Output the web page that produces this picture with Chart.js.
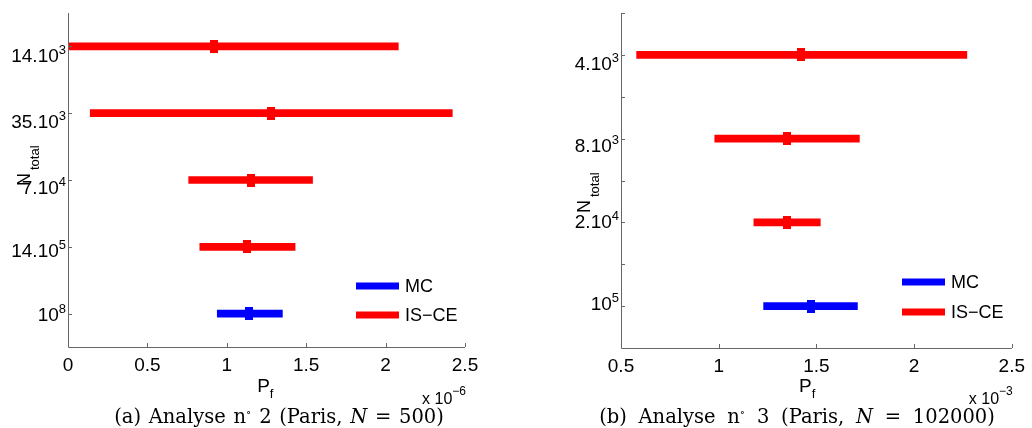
<!DOCTYPE html>
<html>
<head>
<meta charset="utf-8">
<script src="https://cdn.jsdelivr.net/npm/chart.js@4.4.1/dist/chart.umd.min.js"></script>
<style>
  body { margin: 0; background: #fff; width: 1032px; height: 428px; overflow: hidden; position: relative; }
  canvas { position: absolute; top: 0; }
  #panelA { left: 0; }
  #panelB { left: 516px; }
  .caption { position: absolute; top: 405px; font-family: "DejaVu Serif", serif; font-size: 19.5px; white-space: nowrap; transform: translateX(-50%); color: #000; }
  .caption i { font-style: italic; }
  #capA { left: 279px; word-spacing: 1.5px; }
  #capB { left: 797px; word-spacing: 5.5px; }
</style>
</head>
<body>
<canvas id="panelA" width="516" height="428"></canvas>
<canvas id="panelB" width="516" height="428"></canvas>
<div class="caption" id="capA">(a) Analyse n<sup style="font-size:11px">&#8728;</sup> 2 (Paris, <i>N</i> = 500)</div>
<div class="caption" id="capB">(b) Analyse n<sup style="font-size:11px">&#8728;</sup> 3 (Paris, <i>N</i> = 102000)</div>
<script>
// (a) Analyse n°2 - valeurs en unités de 1e-6
const labelsA = ['14.10^3', '35.10^3', '7.10^4', '14.10^5', '10^8'];
const isceLowA = [0.00, 0.14, 0.76, 0.83, null];
const isceHighA = [2.08, 2.42, 1.54, 1.43, null];
const isceMeanA = [0.92, 1.28, 1.15, 1.13, null];
const mcLowA = [null, null, null, null, 0.94];
const mcHighA = [null, null, null, null, 1.35];
const mcMeanA = [null, null, null, null, 1.14];
const xTicksA = [0, 0.5, 1, 1.5, 2, 2.5];

// (b) Analyse n°3 - valeurs en unités de 1e-3
const labelsB = ['4.10^3', '8.10^3', '2.10^4', '10^5'];
const isceLowB = [0.58, 0.98, 1.18, null];
const isceHighB = [2.27, 1.72, 1.52, null];
const isceMeanB = [1.42, 1.35, 1.35, null];
const mcLowB = [null, null, null, 1.23];
const mcHighB = [null, null, null, 1.71];
const mcMeanB = [null, null, null, 1.47];
const xTicksB = [0.5, 1, 1.5, 2, 2.5];

const nomsSeries = ['MC', 'IS\u2212CE'];
const ROUGE = '#ff0000';
const BLEU = '#0000ff';
const POLICE = '"Liberation Sans", Arial, sans-serif';

function marqueur(couleur) {
    const c = document.createElement('canvas');
    c.width = 8; c.height = 13;
    const g = c.getContext('2d');
    g.fillStyle = couleur;
    g.fillRect(0, 0, 8, 13);
    return c;
}

function texteExposant(ctx, texte, xDroite, base, grand, petit, montee) {
    const [b, s] = texte.split('^');
    ctx.font = petit + 'px ' + POLICE;
    const ws = s ? ctx.measureText(s).width : 0;
    ctx.font = grand + 'px ' + POLICE;
    const wb = ctx.measureText(b).width;
    ctx.textAlign = 'left';
    ctx.textBaseline = 'alphabetic';
    ctx.fillText(b, xDroite - ws - wb, base);
    if (s) {
        ctx.font = petit + 'px ' + POLICE;
        ctx.fillText(s, xDroite - ws, base - montee);
    }
}

const extras = {
    id: 'extras',
    afterDraw(chart, args, o) {
        const ctx = chart.ctx;
        const { left, right, top, bottom } = chart.chartArea;
        const xs = chart.scales.x, ys = chart.scales.y;
        ctx.save();
        // axes (sans boite)
        ctx.strokeStyle = '#666';
        ctx.lineWidth = 1;
        ctx.beginPath();
        ctx.moveTo(left + 0.5, top);
        ctx.lineTo(left + 0.5, bottom + 0.5);
        ctx.lineTo(right, bottom + 0.5);
        // graduations vers l'intérieur
        xs.ticks.forEach(t => {
            const px = Math.round(xs.getPixelForValue(t.value)) + 0.5;
            ctx.moveTo(px, bottom);
            ctx.lineTo(px, bottom - 4);
        });
        const n = o.labels.length;
        for (let i = 0; i < n; i++) {
            const py = Math.round(ys.getPixelForValue(i)) + 0.5;
            ctx.moveTo(left, py);
            ctx.lineTo(left + 4, py);
            if (o.mineurs) {
                const pm = Math.round(ys.getPixelForValue(i - 0.5)) + 0.5;
                ctx.moveTo(left, pm);
                ctx.lineTo(left + 4, pm);
            }
        }
        ctx.stroke();

        // étiquettes y avec exposants
        ctx.fillStyle = '#000';
        o.labels.forEach((lab, i) => {
            const py = ys.getPixelForValue(i);
            texteExposant(ctx, lab, left - 2, py + o.decalages[i], 19, 13, 8);
        });

        // P_f
        const cx = (left + right) / 2 + o.pfDx;
        ctx.font = '19px ' + POLICE;
        const wP = ctx.measureText('P').width;
        ctx.textAlign = 'left';
        ctx.fillText('P', cx - wP / 2 - 3, 392);
        ctx.font = '13px ' + POLICE;
        ctx.fillText('f', cx + wP / 2 - 3, 398);

        // x 10^-n
        texteExposant(ctx, 'x 10^' + o.exposant, right + 1, 404, 16, 12, 9);

        // N_total (vertical)
        ctx.save();
        ctx.translate(o.nX, o.nY);
        ctx.rotate(-Math.PI / 2);
        ctx.font = '18px ' + POLICE;
        ctx.fillText('N', 0, 0);
        const wN = ctx.measureText('N').width;
        ctx.font = '13px ' + POLICE;
        ctx.fillText('total', wN + 3, 9);
        ctx.restore();

        // légende
        const series = [chart.data.datasets[0], chart.data.datasets[1]];
        series.forEach((ds, k) => {
            const y = o.legY + k * o.legGap;
            ctx.strokeStyle = ds.backgroundColor;
            ctx.lineWidth = 7;
            ctx.beginPath();
            ctx.moveTo(o.legX, y);
            ctx.lineTo(o.legX + 43, y);
            ctx.stroke();
            ctx.fillStyle = '#000';
            ctx.font = '18px ' + POLICE;
            ctx.textBaseline = 'middle';
            ctx.fillText(ds.label, o.legX + 49, y + 1);
        });
        ctx.restore();
    }
};

function creerPanneau(id, p) {
    const ctx = document.getElementById(id).getContext('2d');
    const barres = (lo, hi) => lo.map((v, i) => v == null ? null : [v, hi[i]]);
    const points = (m) => p.labels.map((l, i) => m[i] == null ? null : { x: m[i], y: l }).filter(Boolean);
    return new Chart(ctx, {
        type: 'bar',
        data: {
            labels: p.labels,
            datasets: [
                { label: nomsSeries[0], data: barres(p.mcLow, p.mcHigh), backgroundColor: BLEU, barThickness: 7, grouped: false, borderWidth: 0, order: 2 },
                { label: nomsSeries[1], data: barres(p.isceLow, p.isceHigh), backgroundColor: ROUGE, barThickness: 7, grouped: false, borderWidth: 0, order: 2 },
                { type: 'line', label: 'MC moyenne', data: points(p.mcMean), showLine: false, pointStyle: marqueur(BLEU), pointRadius: 5, order: 0 },
                { type: 'line', label: 'IS-CE moyenne', data: points(p.isceMean), showLine: false, pointStyle: marqueur(ROUGE), pointRadius: 5, order: 0 }
            ]
        },
        options: {
            indexAxis: 'y',
            responsive: false,
            animation: false,
            layout: { padding: { left: 0, right: p.padDroite, top: 13, bottom: p.padBas } },
            plugins: {
                legend: { display: false },
                tooltip: { enabled: false },
                extras: {
                    labels: p.labels, decalages: p.decalages, mineurs: p.mineurs,
                    exposant: p.exposant, pfDx: p.pfDx, nX: p.nX, nY: p.nY,
                    legX: p.legX, legY: p.legY, legGap: p.legGap
                }
            },
            scales: {
                x: {
                    type: 'linear',
                    min: p.xTicks[0],
                    max: p.xTicks[p.xTicks.length - 1],
                    afterBuildTicks: s => { s.ticks = p.xTicks.map(v => ({ value: v })); },
                    afterFit: s => { s.height = 40; },
                    grid: { display: false, drawTicks: false },
                    border: { display: false },
                    ticks: {
                        padding: 7, color: '#000', font: { family: POLICE, size: 19 },
                        maxRotation: 0, autoSkip: false,
                        callback: v => String(v)
                    }
                },
                y: {
                    type: 'category',
                    offset: true,
                    afterFit: s => { s.width = p.largeurY; },
                    grid: { display: false, drawTicks: false },
                    border: { display: false },
                    ticks: { display: false }
                }
            }
        },
        plugins: [extras]
    });
}

creerPanneau('panelA', {
    labels: labelsA, isceLow: isceLowA, isceHigh: isceHighA, isceMean: isceMeanA,
    mcLow: mcLowA, mcHigh: mcHighA, mcMean: mcMeanA, xTicks: xTicksA,
    exposant: '\u22126', largeurY: 68, padDroite: 51, padBas: 41,
    decalages: [16, 15, 14, 10, 7], mineurs: false, pfDx: 0,
    nX: 30, nY: 186, legX: 356, legY: 286, legGap: 29
});

creerPanneau('panelB', {
    labels: labelsB, isceLow: isceLowB, isceHigh: isceHighB, isceMean: isceMeanB,
    mcLow: mcLowB, mcHigh: mcHighB, mcMean: mcMeanB, xTicks: xTicksB,
    exposant: '\u22123', largeurY: 105, padDroite: 15, padBas: 40,
    decalages: [15, 13, 6, 4], mineurs: true, pfDx: -8,
    nX: 74, nY: 213, legX: 386, legY: 282, legGap: 30
});
</script>
</body>
</html>
